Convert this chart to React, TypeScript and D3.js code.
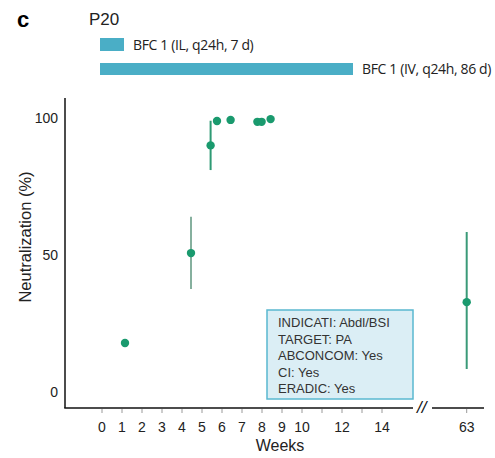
import React, { useEffect, useRef } from 'react'
import * as d3 from 'd3'

// data
const weeks = [1.15, 4.45, 5.43, 5.75, 6.43, 7.77, 7.98, 8.43, 63]
const neutral = [17.9, 50.7, 90, 98.9, 99.3, 98.6, 98.6, 99.6, 32.8]
const errLow = [NaN, 37.6, 81, NaN, NaN, NaN, NaN, NaN, 8.4]
const errHigh = [NaN, 64, 99, NaN, NaN, NaN, NaN, NaN, 58.4]
const errColor = ['', '#86b09e', '#2e9a74', '', '', '', '', '', '#3a9a78']

const tickWeeks = [0, 1, 2, 3, 4, 5, 6, 7, 8, 9, 10, 11, 12, 13, 14]
const tickLabelWeeks = [0, 1, 2, 3, 4, 5, 6, 7, 8, 9, 10, 12, 14]
const yTicks = [0, 50, 100]

const barLabels = ['BFC 1 (IL, q24h, 7 d)', 'BFC 1 (IV, q24h, 86 d)']
const barStart = [-0.1, -0.1]
const barEnd = [1.1, 12.55]

const infoLines = ['INDICATI: Abdl/BSI', 'TARGET: PA', 'ABCONCOM: Yes', 'CI: Yes', 'ERADIC: Yes']

const W = 495
const H = 458
const FONT = '"Liberation Sans", Arial, sans-serif'

const App = () => {
  const ref = useRef<SVGSVGElement>(null)

  useEffect(() => {
    const svg = d3.select(ref.current)
    svg.selectAll('*').remove()

    const x = d3.scaleLinear().domain([0, 14, 63]).range([102, 382, 466.7])
    const y = d3.scaleLinear().domain([0, 100]).range([392, 118])
    const axisLeft = 65
    const axisY = 408
    const green = '#1a9a6e'

    // panel letter + title
    svg.append('text').text('c').attr('x', 17).attr('y', 27)
      .attr('font-family', FONT).attr('font-weight', 'bold').attr('font-size', 22)
    svg.append('text').text('P20').attr('x', 89).attr('y', 25)
      .attr('font-family', FONT).attr('font-size', 17).attr('fill', '#222')

    // treatment bars
    const barY = [38, 63]
    const barH = [13, 12]
    barLabels.forEach((lab, i) => {
      svg.append('rect')
        .attr('x', x(barStart[i])).attr('y', barY[i])
        .attr('width', x(barEnd[i]) - x(barStart[i])).attr('height', barH[i])
        .attr('fill', '#4aaec6')
      svg.append('text').text(lab)
        .attr('x', x(barEnd[i]) + 9).attr('y', barY[i] + barH[i] / 2 + 5)
        .attr('font-family', '"Open Sans", Lato, sans-serif').attr('font-size', 14)
        .attr('fill', '#222').attr('letter-spacing', -0.35)
    })

    // axes
    svg.append('line').attr('x1', axisLeft).attr('x2', axisLeft).attr('y1', 98).attr('y2', axisY)
      .attr('stroke', '#111').attr('stroke-width', 1.5)
    svg.append('line').attr('x1', axisLeft - 0.75).attr('x2', 413).attr('y1', axisY).attr('y2', axisY)
      .attr('stroke', '#111').attr('stroke-width', 1.5)
    svg.append('line').attr('x1', 432).attr('x2', 484).attr('y1', axisY).attr('y2', axisY)
      .attr('stroke', '#111').attr('stroke-width', 1.5)
    svg.append('text').text('//').attr('x', 417).attr('y', axisY + 5)
      .attr('font-family', FONT).attr('font-style', 'italic').attr('font-size', 17).attr('fill', '#111')

    const allTicks = [...tickWeeks, 63]
    svg.append('g').selectAll('line').data(allTicks).enter().append('line')
      .attr('x1', d => x(d)).attr('x2', d => x(d))
      .attr('y1', axisY + 1).attr('y2', axisY + 5)
      .attr('stroke', '#999').attr('stroke-width', 1)

    svg.append('g').selectAll('text').data([...tickLabelWeeks, 63]).enter().append('text')
      .text(d => d)
      .attr('x', d => x(d)).attr('y', 432)
      .attr('text-anchor', 'middle')
      .attr('font-family', FONT).attr('font-size', 14).attr('fill', '#222')

    svg.append('g').selectAll('text').data(yTicks).enter().append('text')
      .text(d => d)
      .attr('x', 58).attr('y', d => y(d) + 5)
      .attr('text-anchor', 'end')
      .attr('font-family', FONT).attr('font-size', 14).attr('fill', '#222')

    svg.append('text').text('Weeks')
      .attr('x', 280).attr('y', 451).attr('text-anchor', 'middle')
      .attr('font-family', FONT).attr('font-size', 16).attr('fill', '#222')
    svg.append('text').text('Neutralization (%)')
      .attr('transform', 'rotate(-90)')
      .attr('x', -237).attr('y', 31).attr('text-anchor', 'middle')
      .attr('font-family', FONT).attr('font-size', 16.5).attr('fill', '#222')

    // info box
    svg.append('rect').attr('x', 267).attr('y', 310).attr('width', 146).attr('height', 89)
      .attr('fill', '#dbeef5').attr('stroke', '#5ab8d0').attr('stroke-width', 1.5)
    svg.append('g').selectAll('text').data(infoLines).enter().append('text')
      .text(d => d)
      .attr('x', 278).attr('y', (d, i) => 327 + i * 16.6)
      .attr('font-family', FONT).attr('font-size', 13).attr('fill', '#333')

    // error bars
    const idx = d3.range(weeks.length)
    svg.append('g').selectAll('line').data(idx.filter(i => !isNaN(errLow[i]))).enter().append('line')
      .attr('x1', i => x(weeks[i])).attr('x2', i => x(weeks[i]))
      .attr('y1', i => y(errHigh[i])).attr('y2', i => y(errLow[i]))
      .attr('stroke', i => errColor[i]).attr('stroke-width', 2)

    // points
    svg.append('g').selectAll('circle').data(idx).enter().append('circle')
      .attr('cx', i => x(weeks[i])).attr('cy', i => y(neutral[i]))
      .attr('r', 4.2).attr('fill', green)
  }, [])

  return (
    <svg ref={ref} width={W} height={H}
      style={{ position: 'absolute', left: 0, top: 0, background: '#fff' }} />
  )
}

export default App
